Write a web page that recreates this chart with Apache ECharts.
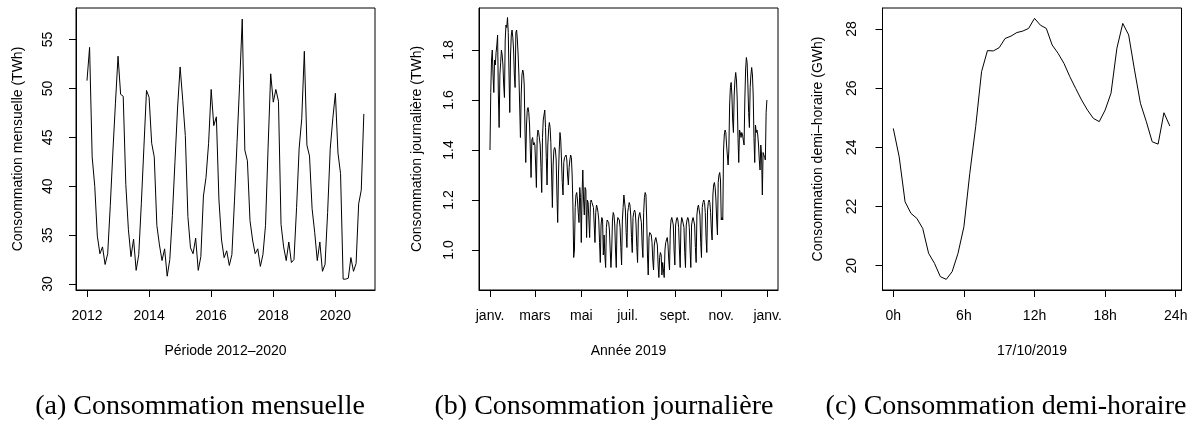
<!DOCTYPE html>
<html><head><meta charset="utf-8">
<script src="https://cdn.jsdelivr.net/npm/echarts@6/dist/echarts.min.js"></script>
<style>html,body{margin:0;padding:0;background:#fff}#c{width:1192px;height:425px}</style>
</head><body><div id="c"></div>
<script>
// ---- (a) monthly consumption, Jan 2012 .. Dec 2020 (TWh)
const monthlyStartYear = 2012;
const monthlyValues = [
  50.8, 54.2, 43.0, 40.0, 34.9, 33.1, 33.8, 32.0, 33.1, 38.0, 43.5, 48.5,
  53.3, 49.4, 49.2, 40.2, 35.6, 32.8, 34.6, 31.4, 33.0, 38.2, 44.0, 49.8,
  49.1, 44.4, 43.0, 36.0, 34.0, 32.4, 33.6, 30.8, 32.5, 37.0, 42.5, 48.0,
  52.2, 48.8, 45.2, 36.9, 33.7, 33.1, 34.7, 31.4, 32.8, 39.0, 40.9, 44.4,
  49.9, 46.2, 47.1, 38.6, 34.5, 32.7, 33.4, 31.9, 33.0, 38.5, 44.5, 50.5,
  57.1, 43.7, 42.6, 36.5, 34.5, 33.1, 33.6, 31.8, 33.0, 36.0, 44.0, 51.5,
  48.6, 49.9, 48.7, 36.1, 33.8, 32.4, 34.3, 32.2, 32.5, 37.8, 43.9, 46.9,
  53.8, 44.2, 43.1, 37.7, 35.3, 32.4, 34.3, 31.3, 32.0, 37.3, 43.8, 46.9,
  49.5, 43.4, 41.3, 30.5, 30.5, 30.6, 32.7, 31.3, 32.1, 38.2, 39.6, 47.4
];
const yearTicks = [2012, 2014, 2016, 2018, 2020];
const monthlyTicksY = [30, 35, 40, 45, 50, 55];

// ---- (b) daily consumption, 1 Jan 2019 .. 31 Dec 2019 (TWh)
const dailyValues = [
  1.40, 1.63, 1.76, 1.80, 1.70, 1.63,
  1.76, 1.74, 1.79, 1.82, 1.86, 1.62, 1.49,
  1.70, 1.75, 1.80, 1.78, 1.74, 1.66, 1.61,
  1.84, 1.90, 1.89, 1.93, 1.87, 1.70, 1.55,
  1.78, 1.86, 1.88, 1.85, 1.80, 1.70, 1.65,
  1.87, 1.88, 1.84, 1.78, 1.70, 1.58, 1.45,
  1.62, 1.70, 1.72, 1.71, 1.66, 1.48, 1.35,
  1.50, 1.56, 1.57, 1.55, 1.50, 1.40, 1.29,
  1.44, 1.45, 1.42, 1.43, 1.42, 1.34, 1.25,
  1.45, 1.48, 1.47, 1.47, 1.42, 1.33, 1.23,
  1.45, 1.52, 1.54, 1.56, 1.49, 1.37, 1.26,
  1.42, 1.48, 1.51, 1.49, 1.43, 1.30, 1.17,
  1.34, 1.40, 1.41, 1.40, 1.36, 1.22, 1.11,
  1.30, 1.40, 1.47, 1.44, 1.36, 1.27, 1.22,
  1.35, 1.37, 1.37, 1.38, 1.36, 1.30, 1.26,
  1.33, 1.36, 1.38, 1.37, 1.30, 1.18, 0.97,
  1.00, 1.17, 1.22, 1.23, 1.20, 1.15, 1.11,
  1.25, 1.21, 1.03, 1.22, 1.32, 1.20, 1.14,
  1.25, 1.24, 1.05, 1.20, 1.19, 1.12, 1.05,
  1.19, 1.20, 1.19, 1.18, 1.17, 1.10, 1.03,
  1.15, 1.18, 1.17, 1.15, 1.12, 1.03, 0.95,
  1.10, 1.13, 1.12, 0.98, 1.06, 0.98, 0.93,
  1.09, 1.12, 1.12, 1.11, 1.08, 1.00, 0.93,
  1.00, 1.12, 1.15, 1.14, 1.10, 1.00, 0.93,
  1.10, 1.13, 1.13, 1.12, 1.09, 1.01, 0.94,
  1.12, 1.17, 1.22, 1.22, 1.16, 1.07, 1.01,
  1.15, 1.17, 1.19, 1.18, 1.14, 1.05, 0.99,
  1.13, 1.15, 1.16, 1.15, 1.10, 1.01, 0.95,
  1.12, 1.14, 1.15, 1.15, 1.11, 1.02, 0.97,
  1.15, 1.21, 1.23, 1.22, 1.12, 0.98, 0.90,
  1.05, 1.07, 1.07, 1.06, 1.03, 0.96, 0.92,
  1.02, 1.04, 1.05, 1.05, 1.02, 0.94, 0.89,
  0.97, 0.99, 0.98, 0.90, 0.95, 0.92, 0.89,
  1.00, 1.03, 1.04, 1.05, 1.02, 0.96, 0.92,
  1.08, 1.12, 1.13, 1.13, 1.10, 1.00, 0.94,
  1.10, 1.12, 1.13, 1.12, 1.09, 1.00, 0.93,
  1.10, 1.13, 1.12, 1.12, 1.09, 0.99, 0.93,
  1.10, 1.12, 1.13, 1.12, 1.09, 1.00, 0.93,
  1.10, 1.12, 1.13, 1.13, 1.10, 1.01, 0.95,
  1.14, 1.17, 1.18, 1.18, 1.14, 1.03, 0.97,
  1.17, 1.19, 1.20, 1.19, 1.15, 1.05, 0.99,
  1.16, 1.19, 1.20, 1.19, 1.15, 1.08, 1.04,
  1.22, 1.26, 1.27, 1.25, 1.20, 1.12, 1.06,
  1.27, 1.30, 1.31, 1.28, 1.12, 1.13, 1.12,
  1.40, 1.46, 1.48, 1.47, 1.42, 1.38, 1.34,
  1.40, 1.58, 1.65, 1.67, 1.62, 1.52, 1.47,
  1.62, 1.68, 1.71, 1.68, 1.60, 1.45, 1.35,
  1.48, 1.47, 1.45, 1.47, 1.46, 1.44, 1.42,
  1.60, 1.72, 1.77, 1.75, 1.66, 1.55, 1.49,
  1.65, 1.70, 1.73, 1.70, 1.62, 1.45, 1.35,
  1.50, 1.47, 1.48, 1.46, 1.42, 1.36, 1.32,
  1.42, 1.38, 1.22, 1.39, 1.38, 1.37, 1.36,
  1.55, 1.60
];
const monthTickDays = [0, 59, 120, 181, 243, 304, 365];
const monthTickLabels = ['janv.', 'mars', 'mai', 'juil.', 'sept.', 'nov.', 'janv.'];
const dailyTicksY = [1.0, 1.2, 1.4, 1.6, 1.8];

// ---- (c) half-hourly consumption, 17/10/2019 (GWh)
const halfHourValues = [
  24.64, 23.68, 22.16, 21.77, 21.60, 21.26, 20.42, 20.08, 19.63, 19.54,
  19.80, 20.42, 21.32, 23.12, 24.70, 26.56, 27.27, 27.26, 27.37, 27.68,
  27.76, 27.88, 27.93, 28.02, 28.36, 28.13, 28.02, 27.46, 27.18, 26.84,
  26.39, 25.99, 25.60, 25.26, 24.98, 24.87, 25.26, 25.83, 27.35, 28.19,
  27.80, 26.61, 25.49, 24.87, 24.19, 24.11, 25.17, 24.72
];
const hourTicks = [0, 6, 12, 18, 24];
const hourTickLabels = ['0h', '6h', '12h', '18h', '24h'];
const halfHourTicksY = [20, 22, 24, 26, 28];

const SANS = 'Liberation Sans';
const SERIF = 'Liberation Serif';

const chart = echarts.init(document.getElementById('c'), null, {renderer: 'canvas'});

function grid(left) {
  return {left: left, top: 8, width: 299, height: 282, show: true,
          borderColor: '#000', borderWidth: 1, backgroundColor: 'transparent', containLabel: false};
}
function xAxis(idx, min, max, ticks, fmt) {
  return {type: 'value', gridIndex: idx, min: min, max: max,
    axisLine: {show: true, onZero: false, lineStyle: {color: '#000', width: 1}},
    axisTick: {show: true, customValues: ticks, length: 7, lineStyle: {color: '#000', width: 1}},
    axisLabel: {show: true, customValues: ticks, formatter: fmt, margin: 19,
      color: '#000', fontSize: 14, fontFamily: SANS},
    splitLine: {show: false}};
}
function yAxis(idx, min, max, ticks, fmt, margin) {
  return {type: 'value', gridIndex: idx, min: min, max: max,
    axisLine: {show: true, onZero: false, lineStyle: {color: '#000', width: 1}},
    axisTick: {show: true, customValues: ticks, length: 7, lineStyle: {color: '#000', width: 1}},
    axisLabel: {show: true, customValues: ticks, formatter: fmt, margin: margin, rotate: 90,
      color: '#000', fontSize: 14, fontFamily: SANS},
    splitLine: {show: false}};
}
function txt(x, y, text, size, family, rot) {
  return {type: 'text', x: x, y: y, rotation: rot || 0, silent: true,
    style: {text: text, fontSize: size, fontFamily: family, fill: '#000',
      textAlign: 'center', textVerticalAlign: 'middle', align: 'center', verticalAlign: 'middle'}};
}

const monthlyData = monthlyValues.map((v, i) => [monthlyStartYear + i / 12, v]);
const dailyData = dailyValues.map((v, i) => [i, v]);
const halfHourData = halfHourValues.map((v, i) => [i / 2, v]);

const lineStyle = {color: '#000', width: 1};

chart.setOption({
  animation: false,
  backgroundColor: '#fff',
  grid: [grid(76), grid(479), grid(882.5)],
  xAxis: [
    xAxis(0, 2011.646, 2021.276, yearTicks, v => String(Math.round(v))),
    xAxis(1, -14.46, 378.6, monthTickDays, v => monthTickLabels[monthTickDays.indexOf(v)]),
    xAxis(2, -0.918, 24.49, hourTicks, v => hourTickLabels[hourTicks.indexOf(v)])
  ],
  yAxis: [
    yAxis(0, 29.39, 58.23, monthlyTicksY, v => String(v), 21),
    yAxis(1, 0.84, 1.968, dailyTicksY, v => v.toFixed(1), 23),
    yAxis(2, 19.18, 28.71, halfHourTicksY, v => String(v), 23)
  ],
  series: [
    {type: 'line', xAxisIndex: 0, yAxisIndex: 0, data: monthlyData, showSymbol: false, symbol: 'none', lineStyle: lineStyle, silent: true},
    {type: 'line', xAxisIndex: 1, yAxisIndex: 1, data: dailyData, showSymbol: false, symbol: 'none', lineStyle: lineStyle, silent: true},
    {type: 'line', xAxisIndex: 2, yAxisIndex: 2, data: halfHourData, showSymbol: false, symbol: 'none', lineStyle: lineStyle, silent: true}
  ],
  graphic: [
    txt(18, 149, 'Consommation mensuelle (TWh)', 14, SANS, Math.PI / 2),
    txt(417.5, 149, 'Consommation journalière (TWh)', 14, SANS, Math.PI / 2),
    txt(818, 149, 'Consommation demi–horaire (GWh)', 14, SANS, Math.PI / 2),
    txt(225.5, 351, 'Période 2012–2020', 14, SANS),
    txt(628.5, 351, 'Année 2019', 14, SANS),
    txt(1032, 351, '17/10/2019', 14, SANS),
    txt(200, 407, '(a) Consommation mensuelle', 28, SERIF),
    txt(604, 407, '(b) Consommation journalière', 28, SERIF),
    txt(1006, 407, '(c) Consommation demi-horaire', 28, SERIF)
  ]
});
</script></body></html>
